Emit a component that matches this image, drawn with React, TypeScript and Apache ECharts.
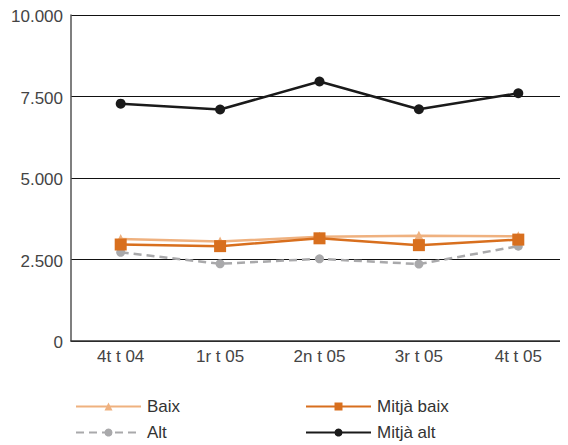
import React, { useEffect, useRef } from "react";
import * as echarts from "echarts";

const categories = ["4t t 04", "1r t 05", "2n t 05", "3r t 05", "4t t 05"];
const baix = [3130, 3050, 3200, 3230, 3210];
const mitjaBaix = [2960, 2910, 3150, 2940, 3110];
const alt = [2720, 2370, 2520, 2360, 2910];
const mitjaAlt = [7280, 7100, 7960, 7110, 7600];
const yTicks = [0, 2500, 5000, 7500, 10000];

const FONT = "'Liberation Sans', Arial, sans-serif";

export default function App() {
  const ref = useRef<HTMLDivElement>(null);
  useEffect(() => {
    if (!ref.current) return;
    const chart = echarts.init(ref.current, null, { renderer: "svg" });
    const fmt = (v: number) => v.toLocaleString("de-DE");
    const legendBase = {
      orient: "horizontal",
      padding: 0,
      itemWidth: 65,
      itemHeight: 10,
      textStyle: { fontSize: 17, color: "#333", fontFamily: FONT, padding: [0, 0, 0, 1] },
    };
    chart.setOption({
      animation: false,
      textStyle: { fontFamily: FONT },
      grid: { left: 62, right: 0, top: 5, bottom: 104, containLabel: false },
      legend: [
        { ...legendBase, left: 67, top: 390, data: ["Baix"] },
        { ...legendBase, left: 67, top: 416, data: ["Alt"] },
        { ...legendBase, left: 297, top: 390, data: ["Mitjà baix"] },
        { ...legendBase, left: 297, top: 416, data: ["Mitjà alt"] },
      ],
      xAxis: {
        type: "category",
        data: categories,
        boundaryGap: true,
        axisLine: { show: true, lineStyle: { color: "#333", width: 1.5 } },
        axisTick: { show: false },
        axisLabel: { fontSize: 17, color: "#444", margin: 7, fontFamily: FONT },
      },
      yAxis: {
        type: "value",
        min: yTicks[0],
        max: yTicks[yTicks.length - 1],
        interval: 2500,
        axisLine: { show: true, lineStyle: { color: "#555", width: 1.5 } },
        axisTick: { show: false },
        axisLabel: {
          fontSize: 17,
          color: "#444",
          margin: 8,
          fontFamily: FONT,
          formatter: (v: number) => fmt(v),
          verticalAlign: "top",
          padding: [-7, 0, 0, 0],
        },
        splitLine: { show: true, lineStyle: { color: "#111", width: 1 } },
      },
      series: [
        {
          name: "Baix",
          type: "line",
          data: baix,
          symbol: "triangle",
          symbolSize: 10,
          lineStyle: { color: "#EFB17F", width: 2.5 },
          itemStyle: { color: "#EFB17F" },
          z: 2,
        },
        {
          name: "Mitjà baix",
          type: "line",
          data: mitjaBaix,
          symbol: "rect",
          symbolSize: 12,
          lineStyle: { color: "#D86F1E", width: 2.5 },
          itemStyle: { color: "#D86F1E" },
          z: 3,
        },
        {
          name: "Alt",
          type: "line",
          data: alt,
          symbol: "circle",
          symbolSize: 9,
          lineStyle: { color: "#A9A9AB", width: 2.5, type: [8, 5] },
          itemStyle: { color: "#A9A9AB" },
          z: 1,
        },
        {
          name: "Mitjà alt",
          type: "line",
          data: mitjaAlt,
          symbol: "circle",
          symbolSize: 10,
          lineStyle: { color: "#1A1A1A", width: 2.5 },
          itemStyle: { color: "#1A1A1A" },
          z: 4,
        },
      ],
    });
    return () => chart.dispose();
  }, []);
  return <div ref={ref} style={{ width: 560, height: 437 }} />;
}
